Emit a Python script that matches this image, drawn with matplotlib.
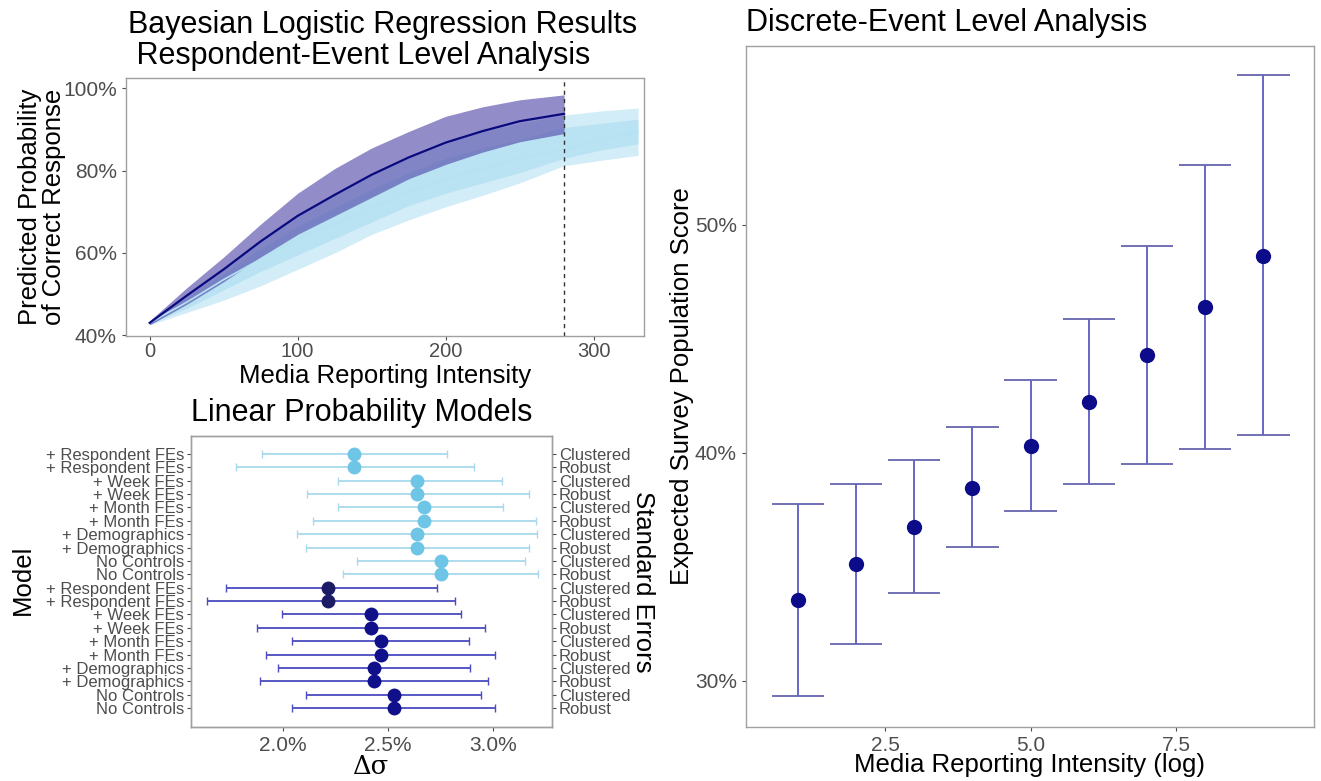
import matplotlib
matplotlib.use("Agg")
import matplotlib.pyplot as plt
import numpy as np
from matplotlib.ticker import FuncFormatter

plt.rcParams['font.family'] = ['Liberation Sans', 'DejaVu Sans']

# ---- top-left: bayesian logistic regression curves ----
dark_x     = [0, 25, 50, 75, 100, 125, 150, 175, 200, 225, 250, 280]
dark_mid   = [.43, .496, .56, .628, .69, .741, .79, .832, .868, .896, .92, .938]
dark_hi    = [.435, .515, .59, .67, .745, .805, .855, .895, .932, .955, .972, .984]
dark_lo    = [.425, .475, .53, .59, .645, .69, .735, .78, .815, .845, .87, .89]

light_x    = [0, 25, 50, 75, 100, 125, 150, 175, 200, 225, 250, 280, 305, 330]
light_mid  = [.43, .48, .535, .585, .635, .67, .71, .75, .78, .805, .83, .852, .875, .895]
light_hi   = [.432, .50, .565, .63, .69, .74, .79, .83, .865, .895, .915, .935, .945, .952]
light_lo   = [.425, .455, .485, .52, .56, .60, .645, .68, .712, .74, .77, .812, .825, .837]
inner_hi   = [.431, .49, .55, .61, .665, .71, .755, .795, .83, .855, .875, .905, .915, .925]
inner_lo   = [.428, .465, .51, .555, .595, .635, .675, .715, .745, .77, .795, .83, .85, .865]
cutoff_x = 280

# ---- bottom-left: linear probability models ----
model_labels = ['+ Respondent FEs', '+ Respondent FEs', '+ Week FEs', '+ Week FEs',
                '+ Month FEs', '+ Month FEs', '+ Demographics', '+ Demographics',
                'No Controls', 'No Controls'] * 2
se_labels = ['Clustered', 'Robust'] * 10
lpm_est = [2.338, 2.338, 2.638, 2.638, 2.671, 2.671, 2.638, 2.638, 2.752, 2.752,
           2.214, 2.214, 2.419, 2.419, 2.467, 2.467, 2.433, 2.433, 2.529, 2.529]
lpm_lo  = [1.90, 1.776, 2.262, 2.114, 2.262, 2.143, 2.067, 2.11, 2.352, 2.286,
           1.729, 1.638, 1.995, 1.876, 2.043, 1.919, 1.976, 1.89, 2.11, 2.043]
lpm_hi  = [2.781, 2.91, 3.043, 3.171, 3.048, 3.205, 3.21, 3.171, 3.152, 3.214,
           2.733, 2.819, 2.848, 2.962, 2.886, 3.01, 2.89, 2.976, 2.943, 3.01]
lpm_group = ['light'] * 10 + ['resp'] * 2 + ['dark'] * 8

# ---- right: discrete-event level ----
event_x   = [1, 2, 3, 4, 5, 6, 7, 8, 9]
event_est = [33.55, 35.12, 36.77, 38.48, 40.31, 42.22, 44.28, 46.42, 48.64]
event_lo  = [29.34, 31.61, 33.85, 35.86, 37.47, 38.63, 39.50, 40.18, 40.79]
event_hi  = [37.76, 38.64, 39.69, 41.13, 43.20, 45.89, 49.08, 52.63, 56.58]

W, H = 1321, 781
fig = plt.figure(figsize=(W / 100, H / 100), dpi=100)

def box(l, t, r, b):
    return [l / W, 1 - b / H, (r - l) / W, (b - t) / H]

def ftext(x, y, s, **kw):
    fig.text(x / W, 1 - y / H, s, **kw)

tick_col = '#4D4D4D'
frame_col = '#A0A0A0'

def style(ax):
    for sp in ax.spines.values():
        sp.set_color(frame_col)
        sp.set_linewidth(1.0)
    ax.tick_params(colors=tick_col, labelcolor=tick_col, length=3, width=0.8, labelsize=15)

pct = FuncFormatter(lambda v, p: f"{v * 100:.0f}%")

# top-left
ax1 = fig.add_axes(box(126, 78, 644, 336))
ax1.fill_between(light_x, light_lo, light_hi, color='#A6DCF1', alpha=0.5, lw=0)
ax1.fill_between(light_x, inner_lo, inner_hi, color='#8CCFEA', alpha=0.35, lw=0)
ax1.plot(light_x, light_mid, color='#B5E2F3', lw=1.2)
ax1.fill_between(dark_x, dark_lo, dark_hi, color='#5046A8', alpha=0.62, lw=0)
ax1.plot(dark_x, dark_mid, color='#0A0A80', lw=1.6)
ax1.axvline(cutoff_x, color='#333333', ls=(0, (3, 3)), lw=1.0)
ax1.set_xlim(-16, 334)
ax1.set_ylim(0.398, 1.025)
ax1.set_xticks([0, 100, 200, 300])
ax1.set_yticks([0.4, 0.6, 0.8, 1.0])
ax1.yaxis.set_major_formatter(pct)
style(ax1)
ax1.tick_params(axis='x', pad=1, labelsize=14.5)

ftext(128, 10, "Bayesian Logistic Regression Results\n Respondent-Event Level Analysis",
      fontsize=22, ha='left', va='top', linespacing=1.05)
ftext(385, 376, "Media Reporting Intensity", fontsize=18.5, ha='center', va='center')
ftext(42, 207, "Predicted Probability\nof Correct Response", fontsize=18.5,
      ha='center', va='center', rotation=90, linespacing=1.0)

# bottom-left
ax2 = fig.add_axes(box(191, 436, 552, 727))
n = len(lpm_est)
ypos = np.arange(n)[::-1]
cols = {'light': ('#A9D9EC', '#6EC5E5'), 'resp': ('#4B4BC2', '#1B1B66'),
        'dark': ('#4B4BC2', '#10108A')}
for i in range(n):
    wcol, pcol = cols[lpm_group[i]]
    est = lpm_est[i] / 100
    ax2.errorbar(est, ypos[i], xerr=[[est - lpm_lo[i] / 100], [lpm_hi[i] / 100 - est]],
                 fmt='none', ecolor=wcol, elinewidth=1.3, capsize=3, capthick=1.0)
for i in range(n):
    wcol, pcol = cols[lpm_group[i]]
    ax2.plot(lpm_est[i] / 100, ypos[i], 'o', color=pcol, ms=10, mec='none')
ax2.set_xlim(0.01562, 0.03281)
ax2.set_ylim(-1.42, n - 1 + 1.346)
ax2.set_xticks([0.02, 0.025, 0.03])
ax2.xaxis.set_major_formatter(FuncFormatter(lambda v, p: f"{v * 100:.1f}%"))
ax2.set_yticks(ypos)
ax2.set_yticklabels(model_labels)
style(ax2)
ax2.tick_params(axis='y', labelsize=12, pad=2)
ax2r = ax2.twinx()
ax2r.set_ylim(ax2.get_ylim())
ax2r.set_yticks(ypos)
ax2r.set_yticklabels(se_labels)
style(ax2r)
ax2r.tick_params(axis='y', labelsize=12, pad=2)

ftext(191, 413, "Linear Probability Models", fontsize=22, ha='left', va='center')
ftext(370, 766, "Δσ", fontsize=18.5, ha='center', va='center', family='DejaVu Serif')
ftext(23, 580, "Model", fontsize=18.5, ha='center', va='center', rotation=90)
ftext(643, 582, "Standard Errors", fontsize=18.5, ha='center', va='center', rotation=270)

# right
ax3 = fig.add_axes(box(746, 46, 1314, 727))
ex = np.array(event_x, dtype=float)
ax3.vlines(ex, np.array(event_lo) / 100, np.array(event_hi) / 100, color='#5A5AC6', lw=1.3)
ax3.hlines(np.array(event_hi) / 100, ex - 0.45, ex + 0.45, color='#6464AE', lw=1.3)
ax3.hlines(np.array(event_lo) / 100, ex - 0.45, ex + 0.45, color='#6464AE', lw=1.3)
ax3.plot(ex, np.array(event_est) / 100, 'o', color='#0C0C8A', ms=11, mec='none')
ax3.set_xlim(0.11, 9.87)
ax3.set_ylim(0.2798, 0.5785)
ax3.set_xticks([2.5, 5.0, 7.5])
ax3.set_yticks([0.3, 0.4, 0.5])
ax3.yaxis.set_major_formatter(pct)
style(ax3)

ftext(746, 23, "Discrete-Event Level Analysis", fontsize=22, ha='left', va='center')
ftext(1030, 765, "Media Reporting Intensity (log)", fontsize=18.5, ha='center', va='center')
ftext(682, 386, "Expected Survey Population Score", fontsize=18.5, ha='center',
      va='center', rotation=90)

fig.savefig("out.png", dpi=100)
